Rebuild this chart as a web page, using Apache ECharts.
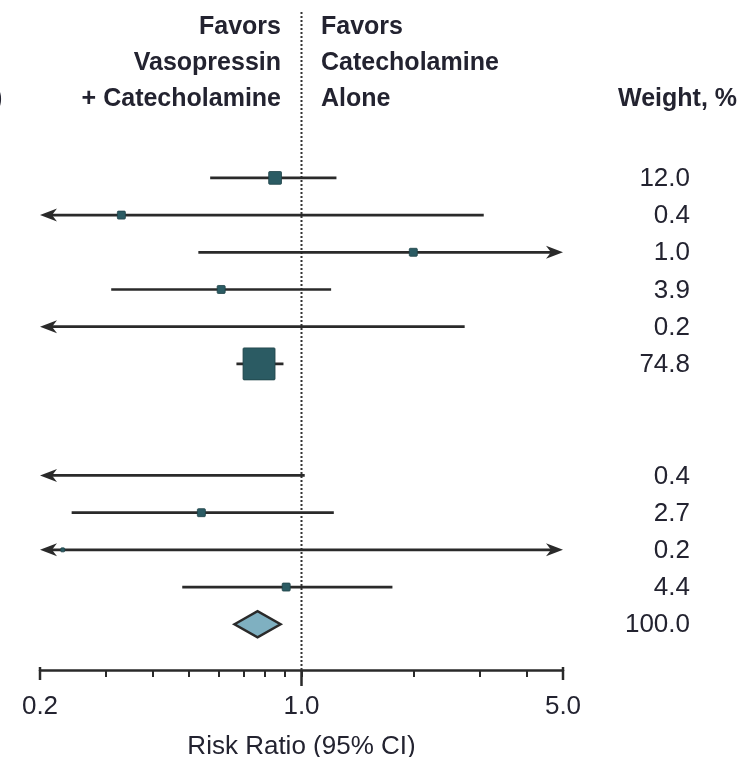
<!DOCTYPE html>
<html>
<head>
<meta charset="utf-8">
<script src="https://cdn.jsdelivr.net/npm/echarts@6/dist/echarts.min.js"></script>
<style>
html,body{margin:0;padding:0;background:#fff;}
#chart{width:744px;height:757px;}
</style>
</head>
<body>
<div id="chart"></div>
<script>
// ---- data ----
const studyRows = [0, 1, 2, 3, 4, 5, 8, 9, 10, 11];
const riskRatio = [0.85, 0.33, 1.99, 0.61, null, 0.77, null, 0.54, 0.23, 0.91];
const lowerCI   = [0.57, 0.10, 0.53, 0.31, 0.10, 0.67, 0.10, 0.243, 0.10, 0.48];
const upperCI   = [1.24, 3.07, 10.0, 1.20, 2.73, 0.895, 1.02, 1.22, 10.0, 1.75];
const weights   = [12.0, 0.4, 1.0, 3.9, 0.2, 74.8, 0.4, 2.7, 0.2, 4.4];
const pooledRow = 12;
const pooledRR  = 0.763;
const pooledLow = 0.662;
const pooledHigh = 0.879;
const pooledWeight = 100.0;
const xTickValues  = [0.2, 0.3, 0.4, 0.5, 0.6, 0.7, 0.8, 0.9, 1, 2, 3, 4, 5];
const xLabelValues = [0.2, 1, 5];
const leftHeader  = ['Favors', 'Vasopressin', '+ Catecholamine'];
const rightHeader = ['Favors', 'Catecholamine', 'Alone'];
const weightHeader = 'Weight, %';
const axisTitle = 'Risk Ratio (95% CI)';

// ---- layout / style ----
const X_MIN = 0.2, X_MAX = 5;
const Y_MIN = -4.38, Y_MAX = 13.23;
const FONT = '"Liberation Sans", Arial, sans-serif';
const TXT = '#232330';
const LINE = '#2a2a2a';
const SQUARE = '#2b5b63';
const DIAMOND = '#7fb0c1';

function boxSize(w) {
  if (w < 0.3) return 4;
  return Math.max(8, 3.7 * Math.sqrt(w));
}

const chart = echarts.init(document.getElementById('chart'), null, {renderer: 'canvas'});

const headerGraphics = [];
leftHeader.forEach((t, i) => headerGraphics.push({
  type: 'text', x: 281, y: 27 + 36 * i,
  style: {text: t, font: 'bold 25px ' + FONT, fill: TXT, align: 'right', verticalAlign: 'middle'}
}));
rightHeader.forEach((t, i) => headerGraphics.push({
  type: 'text', x: 321, y: 27 + 36 * i,
  style: {text: t, font: 'bold 25px ' + FONT, fill: TXT, align: 'left', verticalAlign: 'middle'}
}));
headerGraphics.push({
  type: 'text', x: 737, y: 99,
  style: {text: weightHeader, font: 'bold 25px ' + FONT, fill: TXT, align: 'right', verticalAlign: 'middle'}
});
headerGraphics.push({
  type: 'text', x: -6, y: 99,
  style: {text: ')', font: 'bold 25px ' + FONT, fill: TXT, align: 'left', verticalAlign: 'middle'}
});

const option = {
  animation: false,
  backgroundColor: '#fff',
  grid: {left: 40, right: 181, top: 15, bottom: 87, containLabel: false, outerBoundsMode: 'none'},
  xAxis: {
    type: 'log', logBase: 10, min: X_MIN, max: X_MAX,
    axisLine: {show: true, onZero: false, lineStyle: {color: LINE, width: 2.5}},
    axisTick: {show: true, customValues: xTickValues, length: 7, lineStyle: {color: LINE, width: 2}},
    axisLabel: {
      customValues: xLabelValues, margin: 24, fontSize: 26, fontFamily: FONT, color: TXT,
      formatter: v => Number(v).toFixed(1)
    },
    splitLine: {show: false},
    minorTick: {show: false},
    name: axisTitle, nameLocation: 'middle', nameGap: 64,
    nameTextStyle: {fontSize: 26, fontFamily: FONT, color: TXT}
  },
  yAxis: {type: 'value', inverse: true, min: Y_MIN, max: Y_MAX, show: false},
  graphic: headerGraphics,
  series: [
    // dotted line of no effect
    {
      type: 'custom', z: 1,
      data: [[1, Y_MIN]],
      renderItem: (params, api) => {
        const top = api.coord([1, Y_MIN]);
        const bot = api.coord([1, Y_MAX]);
        return {type: 'line', shape: {x1: top[0], y1: top[1] - 3, x2: bot[0], y2: bot[1]},
          style: {stroke: '#333', lineWidth: 2, lineDash: [2, 2]}};
      }
    },
    // extra axis ticks: long 1.0 tick and end caps
    {
      type: 'custom', z: 3,
      data: [[X_MIN, Y_MAX], [1, Y_MAX], [X_MAX, Y_MAX]],
      renderItem: (params, api) => {
        const p = api.coord([api.value(0), api.value(1)]);
        const isCenter = params.dataIndex === 1;
        return {type: 'line',
          shape: {x1: p[0], y1: isCenter ? p[1] : p[1] - 3, x2: p[0], y2: isCenter ? p[1] + 16 : p[1] + 10},
          style: {stroke: LINE, lineWidth: 2.5}};
      }
    },
    // study CIs and boxes
    {
      type: 'custom', z: 5,
      data: studyRows.map(r => [1, r]),
      renderItem: (params, api) => {
        const i = params.dataIndex;
        const row = studyRows[i];
        const lo = lowerCI[i], hi = upperCI[i];
        const a = api.coord([Math.max(lo, X_MIN), row]);
        const b = api.coord([Math.min(hi, X_MAX), row]);
        const y = a[1];
        const children = [];
        let x1 = a[0], x2 = b[0];
        if (lo < X_MIN) {
          children.push({type: 'polygon', shape: {points: [[x1, y], [x1 + 17, y - 6.5], [x1 + 12, y], [x1 + 17, y + 6.5]]},
            style: {fill: LINE}});
          x1 += 12;
        }
        if (hi > X_MAX) {
          children.push({type: 'polygon', shape: {points: [[x2, y], [x2 - 17, y - 6.5], [x2 - 12, y], [x2 - 17, y + 6.5]]},
            style: {fill: LINE}});
          x2 -= 12;
        }
        children.unshift({type: 'line', shape: {x1: x1, y1: y, x2: x2, y2: y}, style: {stroke: LINE, lineWidth: 2.7}});
        const v = riskRatio[i];
        if (v != null && v >= X_MIN && v <= X_MAX) {
          const c = api.coord([v, row]);
          const s = boxSize(weights[i]);
          children.push({type: 'rect', shape: {x: c[0] - s / 2, y: c[1] - s / 2, width: s, height: s, r: 1},
            style: {fill: SQUARE, stroke: '#1f4248', lineWidth: 0.8}});
        }
        return {type: 'group', children: children};
      }
    },
    // pooled diamond
    {
      type: 'custom', z: 5,
      data: [[pooledRR, pooledRow]],
      renderItem: (params, api) => {
        const l = api.coord([pooledLow, pooledRow]);
        const m = api.coord([pooledRR, pooledRow]);
        const h = api.coord([pooledHigh, pooledRow]);
        const hh = 13;
        return {type: 'polygon', shape: {points: [[l[0], l[1]], [m[0], m[1] - hh], [h[0], h[1]], [m[0], m[1] + hh]]},
          style: {fill: DIAMOND, stroke: '#2a2a2a', lineWidth: 2.5}};
      }
    },
    // weight column
    {
      type: 'custom', z: 5,
      data: studyRows.map(r => [1, r]).concat([[1, pooledRow]]),
      renderItem: (params, api) => {
        const i = params.dataIndex;
        const row = i < studyRows.length ? studyRows[i] : pooledRow;
        const w = i < studyRows.length ? weights[i] : pooledWeight;
        const p = api.coord([1, row]);
        return {type: 'text', x: 690, y: p[1] + 1,
          style: {text: w.toFixed(1), font: '26px ' + FONT, fill: TXT, align: 'right', verticalAlign: 'middle'}};
      }
    }
  ]
};
chart.setOption(option);
</script>
</body>
</html>
